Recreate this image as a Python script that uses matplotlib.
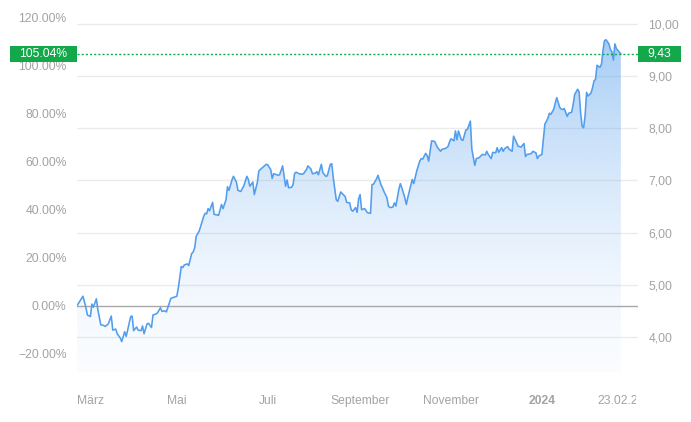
import numpy as np
import matplotlib
matplotlib.use("Agg")
import matplotlib.pyplot as plt
import matplotlib.dates as mdates
from matplotlib.patches import Rectangle
from matplotlib.transforms import blended_transform_factory
from matplotlib.ticker import FixedLocator, FuncFormatter
import datetime as dt

# ---------------- data ----------------
start_date = "2023-02-23"
end_label = "23.02.24"
day_offsets = [0, 2, 4, 6, 7, 9, 10, 11, 13, 14, 16, 18, 19, 21, 23, 24, 26, 27, 29, 30, 32, 33, 34, 36, 37, 38,
               40, 41, 43, 44, 45, 47, 48, 50, 51, 53, 54, 56, 57, 59, 60, 62, 63, 65, 67, 68, 70, 71, 72, 74,
               75, 77, 78, 79, 80, 82, 83, 85, 86, 87, 88, 89, 91, 92, 94, 95, 97, 98, 100, 101, 102, 104, 105,
               107, 108, 110, 111, 112, 114, 115, 116, 118, 119, 121, 122, 123, 125, 127, 128, 130, 131, 132,
               133, 135, 136, 138, 140, 141, 142, 144, 145, 146, 147, 149, 151, 152, 154, 155, 157, 158, 160,
               161, 162, 164, 165, 167, 168, 170, 171, 172, 174, 175, 177, 178, 180, 181, 183, 184, 185, 187,
               188, 189, 190, 191, 193, 194, 195, 197, 198, 199, 201, 202, 204, 205, 206, 208, 209, 210, 212,
               213, 214, 216, 217, 218, 220, 221, 222, 223, 225, 226, 228, 230, 231, 232, 234, 235, 236, 238,
               240, 241, 242, 244, 245, 247, 249, 250, 251, 253, 254, 255, 256, 258, 259, 261, 262, 264, 265,
               267, 268, 270, 271, 272, 274, 275, 276, 278, 279, 281, 282, 283, 285, 286, 287, 289, 290, 292,
               293, 294, 296, 297, 298, 300, 301, 302, 304, 305, 306, 308, 309, 310, 312, 313, 314, 316, 317,
               318, 320, 321, 322, 324, 325, 326, 327, 329, 330, 332, 333, 334, 336, 337, 338, 339, 340, 341,
               342, 343, 345, 346, 347, 348, 349, 351, 352, 353, 354, 355, 357, 358, 359, 360, 361, 362, 364, 365]
prices = [4.60, 4.69, 4.78, 4.56, 4.42, 4.39, 4.63, 4.57, 4.73, 4.52, 4.23, 4.22, 4.20, 4.25, 4.40, 4.13, 4.15,
          4.06, 3.98, 3.91, 4.10, 4.01, 4.13, 4.39, 4.40, 4.12, 4.19, 4.13, 4.12, 4.21, 4.06, 4.25, 4.26, 4.18,
          4.42, 4.44, 4.46, 4.56, 4.49, 4.50, 4.48, 4.65, 4.74, 4.76, 4.78, 4.94, 5.35, 5.33, 5.38, 5.40,
          5.37, 5.60, 5.63, 5.71, 5.93, 6.03, 6.12, 6.31, 6.37, 6.36, 6.46, 6.42, 6.58, 6.35, 6.34, 6.33, 6.54,
          6.46, 6.63, 6.88, 6.81, 7.01, 7.08, 6.97, 6.81, 6.79, 6.85, 6.90, 7.08, 7.02, 6.89, 6.97, 6.73, 6.96,
          7.18, 7.21, 7.26, 7.31, 7.30, 7.21, 7.04, 7.13, 7.12, 7.10, 7.11, 7.28, 6.89, 7.01, 6.86, 6.87, 6.92,
          7.13, 7.16, 7.13, 7.12, 7.13, 7.21, 7.28, 7.22, 7.13, 7.14, 7.17, 7.11, 7.31, 7.15, 7.08, 7.09, 7.31,
          7.32, 7.05, 6.63, 6.60, 6.78, 6.75, 6.69, 6.58, 6.57, 6.44, 6.41, 6.48, 6.39, 6.65, 6.73, 6.44, 6.46,
          6.42, 6.38, 6.37, 6.92, 6.93, 7.03, 7.10, 6.92, 6.86, 6.79, 6.67, 6.51, 6.48, 6.49, 6.57, 6.51, 6.83,
          6.94, 6.86, 6.67, 6.54, 6.67, 6.79, 7.02, 6.94, 7.18, 7.37, 7.42, 7.41, 7.52, 7.48, 7.37, 7.76, 7.75,
          7.69, 7.63, 7.56, 7.60, 7.61, 7.65, 7.74, 7.80, 7.76, 7.95, 7.78, 7.95, 7.78, 7.77, 7.97, 7.98, 8.14,
          7.60, 7.29, 7.42, 7.44, 7.47, 7.50, 7.49, 7.56, 7.50, 7.42, 7.54, 7.53, 7.63, 7.54, 7.63, 7.56, 7.61,
          7.65, 7.60, 7.56, 7.85, 7.79, 7.66, 7.65, 7.64, 7.71, 7.46, 7.50, 7.51, 7.52, 7.56, 7.53, 7.42, 7.47,
          7.50, 7.79, 8.08, 8.19, 8.29, 8.27, 8.37, 8.49, 8.59, 8.40, 8.37, 8.36, 8.38, 8.23, 8.29, 8.31, 8.46,
          8.65, 8.75, 8.70, 8.30, 8.04, 8.01, 8.24, 8.69, 8.62, 8.68, 8.78, 8.91, 8.94, 9.21, 9.17, 9.23, 9.49,
          9.68, 9.70, 9.62, 9.51, 9.47, 9.31, 9.62, 9.53, 9.46, 9.43]
last_price = 9.43
perf_pct = 105.04
price_ticks = [4, 5, 6, 7, 8, 9, 10]
pct_ticks = [-20, 0, 20, 40, 60, 80, 100, 120]
month_labels = ["März", "Mai", "Juli", "September", "November", "2024"]
month_dates = ["2023-03-01", "2023-05-01", "2023-07-01", "2023-09-01", "2023-11-01", "2024-01-01"]

# ---------------- styles ----------------
W, H = 691, 422
LINE_C = "#529ded"
GREEN = "#13a94b"
GRID_C = "#ebebeb"
TXT_C = "#a3a3a3"
FONT = "Liberation Sans"
FS = 8.7

base = last_price / (1 + perf_pct / 100)
t0 = dt.datetime.strptime(start_date, "%Y-%m-%d")
dates = [t0 + dt.timedelta(days=d) for d in day_offsets]
x = mdates.date2num(dates)
y = np.array(prices)

fig = plt.figure(figsize=(W / 100, H / 100), dpi=100)
ax_l, ax_r, ax_t, ax_b = 77, 638, 0, 372
ax = fig.add_axes([ax_l / W, 1 - ax_b / H, (ax_r - ax_l) / W, (ax_b - ax_t) / H])
px_per_unit = 52.0
ymax = 10 + 24 / px_per_unit
ymin = 4 - (ax_b - 337) / px_per_unit
px_per_day = 1.49
xmin = x[0]
xmax = x[0] + (ax_r - ax_l) / px_per_day
ax.set_xlim(xmin, xmax)
ax.set_ylim(ymin, ymax)
for s in ax.spines.values():
    s.set_visible(False)
ax.set_xticks([])

# grid
for p in price_ticks:
    ax.axhline(p, color=GRID_C, lw=1.0, zorder=0)
ax.axhline(base, color="#a8a8a8", lw=1.0, zorder=3)

# gradient fill
poly = ax.fill_between(x, y, ymin, color="none", lw=0)
top_p = 9.7
ny = 300
grad_y = np.linspace(ymin, ymax, ny)
frac = np.clip((grad_y - ymin) / (top_p - ymin), 0, 1)
alpha = 0.03 + 0.48 * frac ** 1.6
rgb = matplotlib.colors.to_rgb(LINE_C)
img = np.zeros((ny, 1, 4))
img[:, 0, 0] = rgb[0]
img[:, 0, 1] = rgb[1]
img[:, 0, 2] = rgb[2]
img[:, 0, 3] = alpha
im = ax.imshow(img, extent=[xmin, xmax, ymin, ymax], origin="lower", aspect="auto", zorder=1,
               interpolation="bilinear")
path = poly.get_paths()[0]
im.set_clip_path(path, transform=ax.transData)

ax.plot(x, y, color=LINE_C, lw=1.15, zorder=4, solid_joinstyle="round")

# current price dotted line
ax.axhline(last_price, color=GREEN, lw=1.0, ls=(0, (1.5, 1.5)), zorder=5)

# right axis: price
ax.yaxis.tick_right()
ax.yaxis.set_major_locator(FixedLocator(price_ticks))
ax.yaxis.set_major_formatter(FuncFormatter(lambda v, _: f"{v:.2f}".replace(".", ",")))
ax.tick_params(axis="y", length=0, pad=7.5, labelcolor=TXT_C, labelsize=FS)
for lb in ax.get_yticklabels():
    lb.set_fontfamily(FONT)

# left axis: percentage
sec = ax.secondary_yaxis("left", functions=(lambda p: (p / base - 1) * 100, lambda q: (q / 100 + 1) * base))
sec.yaxis.set_major_locator(FixedLocator(pct_ticks))
sec.yaxis.set_major_formatter(FuncFormatter(lambda v, _: f"{v:.2f}%".replace("-", "\u2212")))
sec.tick_params(axis="y", length=0, pad=7.5, labelcolor=TXT_C, labelsize=FS)
sec.spines["left"].set_visible(False)
for lb in sec.get_yticklabels():
    lb.set_fontfamily(FONT)

# value boxes
bt = blended_transform_factory(fig.transFigure, ax.transData)
bh = 16 / px_per_unit
fig.patches.append(Rectangle((10 / W, last_price - bh / 2), (ax_l - 10) / W, bh, transform=bt,
                             facecolor=GREEN, edgecolor="none", zorder=10))
fig.text((10 + ax_l) / 2 / W, last_price, f"{perf_pct:.2f}%", transform=bt, color="white", ha="center",
         va="center", fontsize=FS, family=FONT, zorder=11)
fig.patches.append(Rectangle((ax_r / W, last_price - bh / 2), 43 / W, bh, transform=bt,
                             facecolor=GREEN, edgecolor="none", zorder=10))
fig.text((ax_r + 21.5) / W, last_price, f"{last_price:.2f}".replace(".", ","), transform=bt, color="white",
         ha="center", va="center", fontsize=FS, family=FONT, zorder=11)

# x labels
xt = blended_transform_factory(ax.transData, fig.transFigure)
label_y = 1 - 401 / H
for lab, d in zip(month_labels, month_dates):
    xd = mdates.date2num(dt.datetime.strptime(d, "%Y-%m-%d"))
    bold = lab == "2024"
    if lab == "März":
        fig.text(ax_l / W, label_y, lab, ha="left", va="center", color=TXT_C, fontsize=FS, family=FONT)
    else:
        fig.text(xd, label_y, lab, transform=xt, ha="center", va="center", color=TXT_C, fontsize=FS,
                 family=FONT, fontweight="bold" if bold else "normal")
t_end = fig.text(x[-1], label_y, end_label, transform=xt, ha="center", va="center", color=TXT_C,
                 fontsize=FS, family=FONT)
clip = Rectangle((0, 0), (ax_r - 2) / W, 1, transform=fig.transFigure, facecolor="none")
t_end.set_clip_path(clip)
t_end.set_clip_on(True)

fig.savefig("out.png", dpi=100, facecolor="white")
